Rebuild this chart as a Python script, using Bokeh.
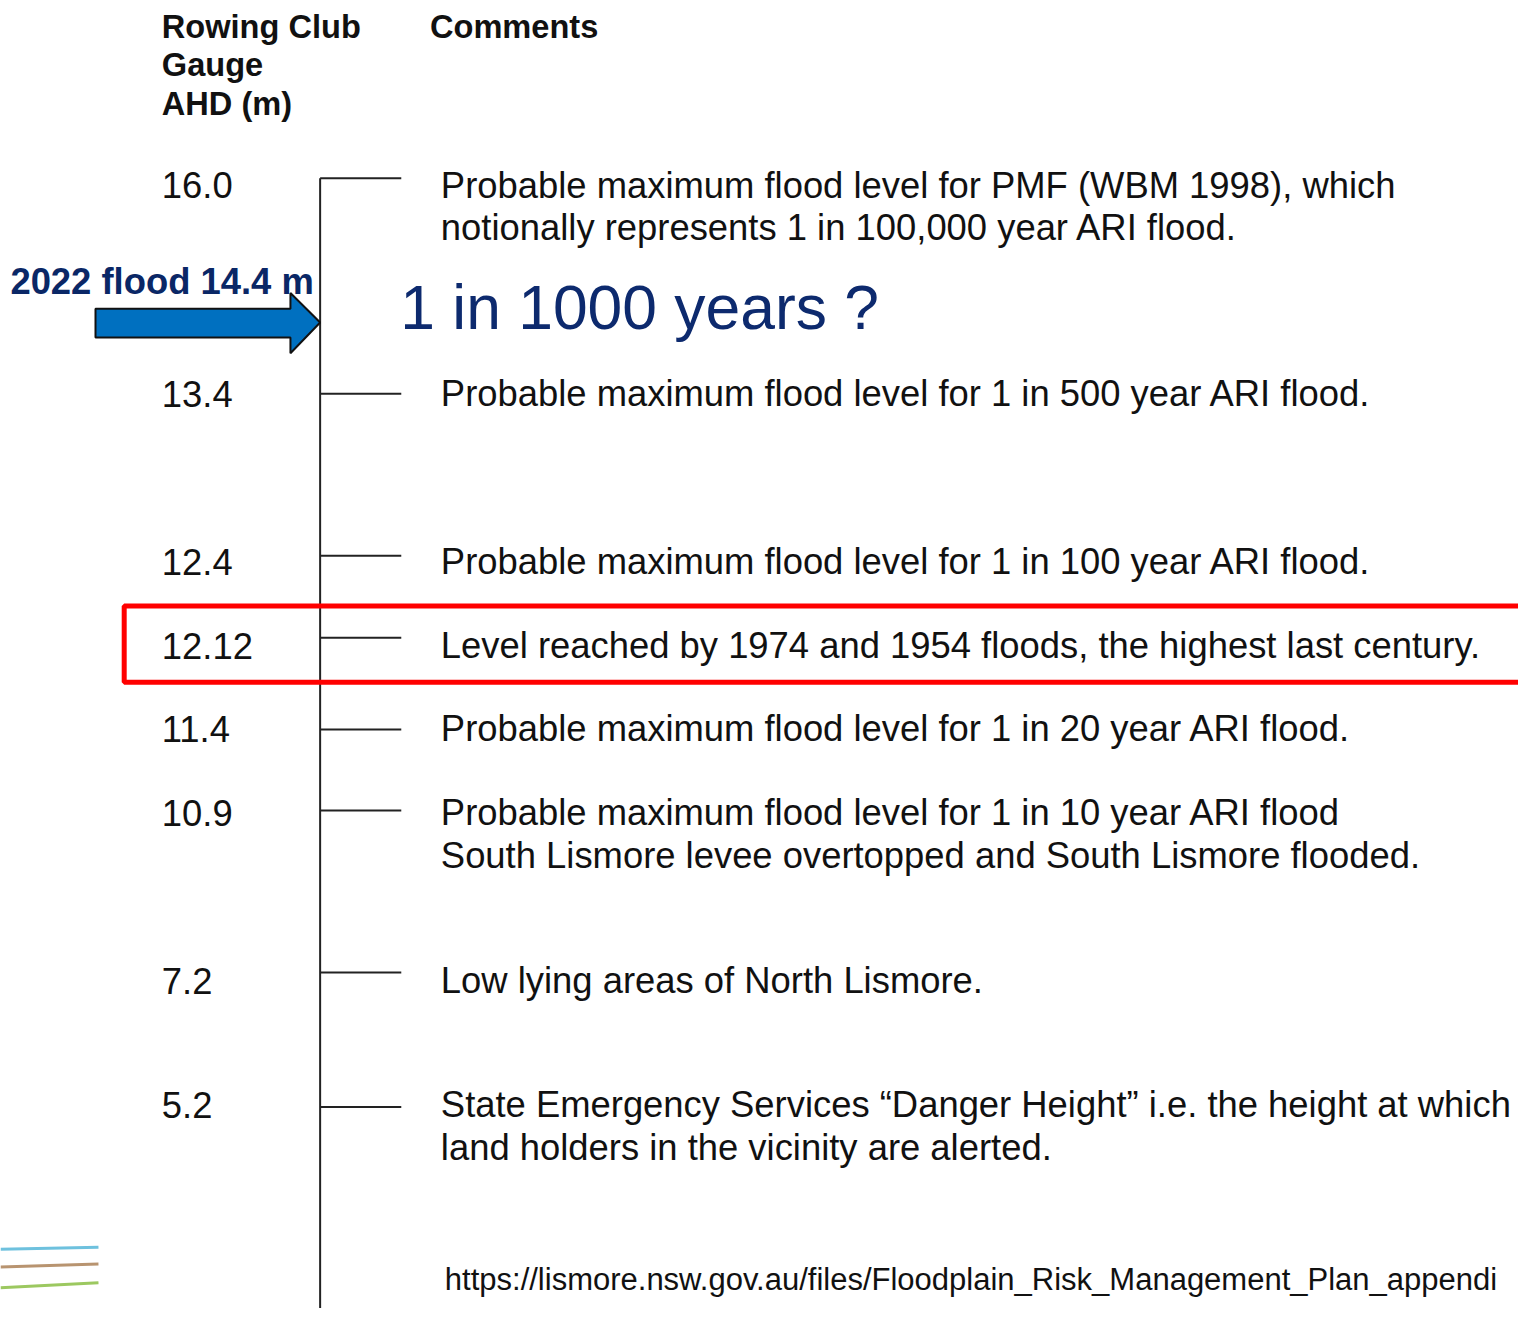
from bokeh.plotting import figure
from bokeh.models import Range1d
from bokeh.embed import file_html
from bokeh.resources import INLINE
from bokeh.core.properties import value

# ---- data ----
levels = ["16.0", "13.4", "12.4", "12.12", "11.4", "10.9", "7.2", "5.2"]
comments = [
    ["Probable maximum flood level for PMF (WBM 1998), which",
     "notionally represents 1 in 100,000 year ARI flood."],
    ["Probable maximum flood level for 1 in 500 year ARI flood."],
    ["Probable maximum flood level for 1 in 100 year ARI flood."],
    ["Level reached by 1974 and 1954 floods, the highest last century."],
    ["Probable maximum flood level for 1 in 20 year ARI flood."],
    ["Probable maximum flood level for 1 in 10 year ARI flood",
     "South Lismore levee overtopped and South Lismore flooded."],
    ["Low lying areas of North Lismore."],
    ["State Emergency Services \u201cDanger Height\u201d i.e. the height at which",
     "land holders in the vicinity are alerted."],
]
header_gauge = ["Rowing Club", "Gauge", "AHD (m)"]
header_comments = "Comments"
flood_2022_label = "2022 flood 14.4 m"
question_label = "1 in 1000 years ?"
source_url = "https://lismore.nsw.gov.au/files/Floodplain_Risk_Management_Plan_appendi"
highlight_level = "12.12"

# ---- layout (pixel space of the reference slide, scaled to fit the page) ----
W, H = 1534, 1324
FW, FH = 1518, 1308
tick_y = [180, 398, 562, 645, 738, 820, 984, 1120]
text_y = [187, 398, 568, 653, 737, 822, 992, 1118]
line_gap = 43
axis_x = 323
tick_len = 82
num_x = 163
com_x = 445

p = figure(width=FW, height=FH, output_backend="svg", toolbar_location=None,
           x_range=Range1d(0, W), y_range=Range1d(H, 0), min_border=0)
p.axis.visible = False
p.grid.visible = False
p.outline_line_color = None
p.background_fill_color = "white"
p.border_fill_color = "white"

FONT = value("Liberation Sans")
BODY = "36.4px"
INK = "#111111"
NAVY = "#0A2766"

# headers
p.text(x=[num_x] * 3, y=[26, 65, 104], text=header_gauge, text_font=FONT,
       text_font_style="bold", text_font_size="32.6px", text_color=INK,
       text_baseline="middle", text_align="left")
p.text(x=[434], y=[26], text=[header_comments], text_font=FONT,
       text_font_style="bold", text_font_size="32.6px", text_color=INK,
       text_baseline="middle", text_align="left")

# vertical scale line and ticks
p.segment(x0=[axis_x], y0=[tick_y[0]], x1=[axis_x], y1=[H + 20], line_color="#222222", line_width=2)
p.segment(x0=[axis_x] * len(tick_y), y0=tick_y, x1=[axis_x + tick_len] * len(tick_y), y1=tick_y,
          line_color="#222222", line_width=2)

# level labels
p.text(x=[num_x] * len(levels), y=text_y, text=levels, text_font=FONT,
       text_font_size=BODY, text_color=INK, text_baseline="middle", text_align="left")

# comments
cx, cy, ct = [], [], []
for yy, lines in zip(text_y, comments):
    for k, ln in enumerate(lines):
        cx.append(com_x)
        cy.append(yy + k * line_gap)
        ct.append(ln)
p.text(x=cx, y=cy, text=ct, text_font=FONT, text_font_size=BODY, text_color=INK,
       text_baseline="middle", text_align="left")

# highlight box around 12.12 row
hi = levels.index(highlight_level)
p.quad(left=[125], right=[W + 20], top=[text_y[hi] - 40], bottom=[text_y[hi] + 37],
       fill_color=None, line_color="#FF0000", line_width=5)

# 2022 flood arrow
ay = 326
p.patch(x=[96, 293, 293, axis_x, 293, 293, 96],
        y=[ay - 14, ay - 14, ay - 30, ay, ay + 31, ay + 15, ay + 15],
        fill_color="#0070C0", line_color="#111111", line_width=2)
p.text(x=[10], y=[284], text=[flood_2022_label], text_font=FONT, text_font_style="bold",
       text_font_size="36.4px", text_color=NAVY, text_baseline="middle", text_align="left")
p.text(x=[404], y=[311], text=[question_label], text_font=FONT,
       text_font_size="62.4px", text_color="#0D2A6E", text_baseline="middle", text_align="left")

# decorative lines bottom-left
p.segment(x0=[0, 0, 0], y0=[1264, 1282, 1303], x1=[99, 99, 99], y1=[1262, 1279, 1298],
          line_color=["#6EC1DE", "#B89470", "#9CC860"], line_width=3)

# source url
p.text(x=[449], y=[1295], text=[source_url], text_font=FONT,
       text_font_size="31px", text_color=INK, text_baseline="middle", text_align="left")

open("out.html", "w").write(file_html(p, INLINE))
